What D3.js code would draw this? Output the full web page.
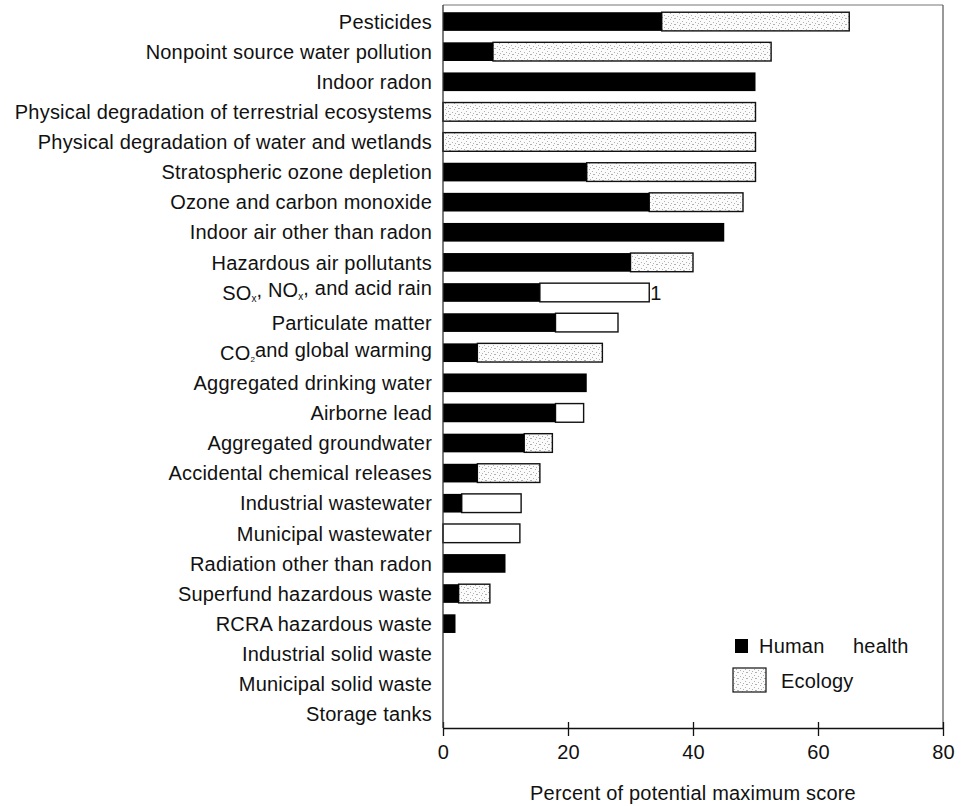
<!DOCTYPE html>
<html>
<head>
<meta charset="utf-8">
<script src="https://cdn.jsdelivr.net/npm/d3@7"></script>
<style>
  html, body { margin: 0; padding: 0; background: #fff; }
  svg { display: block; }
  text { font-family: "Liberation Sans", Arial, sans-serif; fill: #111; letter-spacing: 0.2px; }
</style>
</head>
<body>
<svg id="chart" width="962" height="806"></svg>
<script>
// ---------- data ----------
const categories = [
  "Pesticides",
  "Nonpoint source water pollution",
  "Indoor radon",
  "Physical degradation of terrestrial ecosystems",
  "Physical degradation of water and wetlands",
  "Stratospheric ozone depletion",
  "Ozone and carbon monoxide",
  "Indoor air other than radon",
  "Hazardous air pollutants",
  "SOx, NOx, and acid rain",
  "Particulate matter",
  "CO2 and global warming",
  "Aggregated drinking water",
  "Airborne lead",
  "Aggregated groundwater",
  "Accidental chemical releases",
  "Industrial wastewater",
  "Municipal wastewater",
  "Radiation other than radon",
  "Superfund hazardous waste",
  "RCRA hazardous waste",
  "Industrial solid waste",
  "Municipal solid waste",
  "Storage tanks"
];
const humanHealth = [35, 8, 50, 0, 0, 23, 33, 45, 30, 15.5, 18, 5.5, 23, 18, 13, 5.5, 3, 0, 10, 2.5, 2, 0, 0, 0];
const ecology     = [30, 44.5, 0, 50, 50, 27, 15, 0, 10, 17.5, 10, 20, 0, 4.5, 4.5, 10, 9.5, 12.3, 0, 5, 0, 0, 0, 0];
const xTicks = [0, 20, 40, 60, 80];
const seriesNames = ["Human", "health", "Ecology"];
const axisTitle = "Percent of potential maximum score";

// ---------- drawing ----------
const svg = d3.select("#chart");
const defs = svg.append("defs");
const pat = defs.append("pattern").attr("id", "stipple")
  .attr("patternUnits", "userSpaceOnUse").attr("width", 9).attr("height", 6);
pat.append("rect").attr("width", 9).attr("height", 6).attr("fill", "#fbfbfb");
[[0,0],[4,1],[7,3],[2,4],[5,5],[8,0]].forEach(([px,py]) =>
  pat.append("rect").attr("x", px).attr("y", py).attr("width", 1).attr("height", 1).attr("fill", "#b0b0b0"));

const x = d3.scaleLinear().domain([0, 80]).range([443, 943]);
const y = d3.scaleBand().domain(categories).range([6.5, 729])
  .paddingInner(0.38).paddingOuter(0.19);

const openEcology = new Set(["SOx, NOx, and acid rain", "Particulate matter", "Airborne lead",
  "Industrial wastewater", "Municipal wastewater"]);

const rows = categories.map((c, i) => ({ c, h: humanHealth[i], e: ecology[i] }));

// frame
svg.append("line").attr("x1", x(0)).attr("x2", x(80)).attr("y1", 5).attr("y2", 5)
  .attr("stroke", "#777").attr("stroke-width", 1.2);
svg.append("line").attr("x1", x(80)).attr("x2", x(80)).attr("y1", 5).attr("y2", 728)
  .attr("stroke", "#555").attr("stroke-width", 1.2);

// ecology bars
svg.append("g").selectAll("rect").data(rows.filter(d => d.e > 0)).join("rect")
  .attr("x", d => x(d.h))
  .attr("y", d => y(d.c))
  .attr("width", d => x(d.h + d.e) - x(d.h))
  .attr("height", y.bandwidth())
  .attr("fill", d => openEcology.has(d.c) ? "#fff" : "url(#stipple)")
  .attr("stroke", "#111").attr("stroke-width", 1.4);

// human health bars
svg.append("g").selectAll("rect").data(rows.filter(d => d.h > 0)).join("rect")
  .attr("x", x(0))
  .attr("y", d => y(d.c))
  .attr("width", d => x(d.h) - x(0))
  .attr("height", y.bandwidth())
  .attr("fill", "#000");

// category labels
const lab = svg.append("g").selectAll("text").data(categories).join("text")
  .attr("x", 432)
  .attr("y", d => y(d) + y.bandwidth() / 2)
  .attr("dy", "0.36em")
  .attr("text-anchor", "end")
  .style("font-size", "20px");
lab.each(function(d) {
  const t = d3.select(this);
  if (d.startsWith("SOx")) {
    t.append("tspan").text("SO");
    t.append("tspan").text("x").attr("dy", "0.25em").style("font-size", "10px").style("letter-spacing", "0px");
    t.append("tspan").text(", NO").attr("dy", "-0.25em");
    t.append("tspan").text("x").attr("dy", "0.25em").style("font-size", "10px").style("letter-spacing", "0px");
    t.append("tspan").text(", and acid rain ").attr("dy", "-0.25em");
  } else if (d.startsWith("CO2")) {
    t.append("tspan").text("CO");
    t.append("tspan").text("2").attr("dy", "0.25em").style("font-size", "8px").style("letter-spacing", "0px");
    t.append("tspan").text("and global warming").attr("dy", "-0.25em");
  } else {
    t.text(d);
  }
});

// stray mark after SOx bar
const sox = rows[9];
svg.append("text").attr("x", x(sox.h + sox.e) + 1).attr("y", y(sox.c) + y.bandwidth() / 2)
  .attr("dy", "0.36em").style("font-size", "20px").text("1");

// x axis
const ax = svg.append("g").attr("transform", "translate(0,728)")
  .call(d3.axisBottom(x).tickValues(xTicks).tickSize(8).tickPadding(9).tickSizeOuter(0));
ax.select(".domain").attr("stroke", "#111").attr("stroke-width", 1.3);
ax.selectAll(".tick line").attr("y1", -6).attr("y2", 8).attr("stroke", "#111").attr("stroke-width", 1.3);
ax.selectAll(".tick text").style("font-size", "20px")
  .style("font-family", "'Liberation Sans', Arial, sans-serif").attr("fill", "#111");

// y axis line
svg.append("line").attr("x1", x(0)).attr("x2", x(0)).attr("y1", 5).attr("y2", 728)
  .attr("stroke", "#333").attr("stroke-width", 1.3);

// axis title
svg.append("text").attr("x", 693).attr("y", 800).attr("text-anchor", "middle")
  .style("font-size", "20px").text(axisTitle);

// legend
svg.append("rect").attr("x", 735).attr("y", 639).attr("width", 13).attr("height", 14).attr("fill", "#000");
svg.append("text").attr("x", 759).attr("y", 646).attr("dy", "0.36em").style("font-size", "20px").text(seriesNames[0]);
svg.append("text").attr("x", 853).attr("y", 646).attr("dy", "0.36em").style("font-size", "20px").text(seriesNames[1]);
svg.append("rect").attr("x", 733).attr("y", 668).attr("width", 33).attr("height", 24)
  .attr("fill", "url(#stipple)").attr("stroke", "#111").attr("stroke-width", 1.2);
svg.append("text").attr("x", 781).attr("y", 681).attr("dy", "0.36em").style("font-size", "20px").text(seriesNames[2]);
</script>
</body>
</html>
